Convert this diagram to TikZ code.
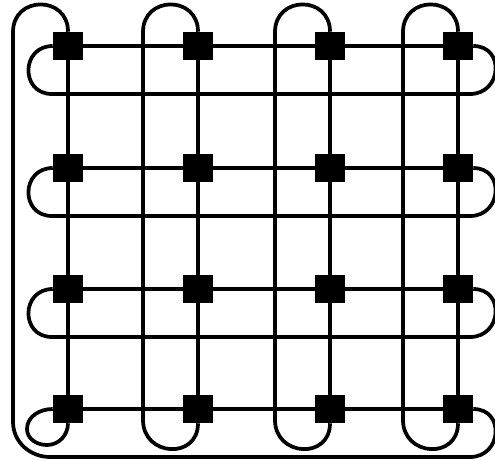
\documentclass[tikz,border=0pt]{standalone}
\begin{document}
\begin{tikzpicture}[x=0.75pt,y=0.75pt,
  sq/.style={fill=black,draw=none,minimum width=22.5pt,minimum height=21pt,inner sep=0pt},
  wire/.style={line width=2.8pt,draw=black},
  semi/.style={looseness=1.7}]
\useasboundingbox (0,0) rectangle (495,-460);
% switches
\foreach \r/\y in {1/46,2/168,3/289,4/409}
  \foreach \c/\x in {1/68,2/198,3/330,4/458}
    \node[sq] (n\r\c) at (\x,-\y) {};
% free ends of the folded wires
\foreach \r/\y in {1/94,2/216,3/337,4/457}{
  \coordinate (L\r) at (52,-\y);
  \coordinate (R\r) at (470,-\y);
}
\coordinate (L4) at (50,-457);
\foreach \c/\x in {1/13,2/143,3/275,4/403}{
  \coordinate (T\c) at (\x,-32);
  \coordinate (B\c) at (\x,-420);
}
\coordinate (B1) at (13,-422);
\coordinate (P1) at (27,-429);
\coordinate (P2) at (47,-445);
% straight row and column lines
\foreach \r in {1,2,3,4}
  \draw[wire] (n\r1) -- (n\r2) -- (n\r3) -- (n\r4);
\foreach \c in {1,2,3,4}
  \draw[wire] (n1\c) -- (n2\c) -- (n3\c) -- (n4\c);
% folded returns of rows 1-3
\foreach \r in {1,2,3}
  \draw[wire] (n\r1.west) to[out=180,in=180,semi] (L\r) -- (R\r)
              to[out=0,in=0,semi] (n\r4.east);
% folded returns of columns 2-4
\foreach \c in {2,3,4}
  \draw[wire] (n1\c.north) to[out=90,in=90,semi] (T\c) -- (B\c)
              to[out=-90,in=-90,semi] (n4\c.south);
% column 1 return joined to row 4 return
\draw[wire] (n11.north) to[out=90,in=90,semi] (T1) -- (B1)
            to[out=-90,in=180] (L4) -- (R4) to[out=0,in=0,semi] (n44.east);
% small loop at the bottom-left switch
\draw[wire] (n41.west) to[out=180,in=90] (P1) to[out=-90,in=180] (P2)
            to[out=0,in=-90] (n41.south);
\end{tikzpicture}
\end{document}
